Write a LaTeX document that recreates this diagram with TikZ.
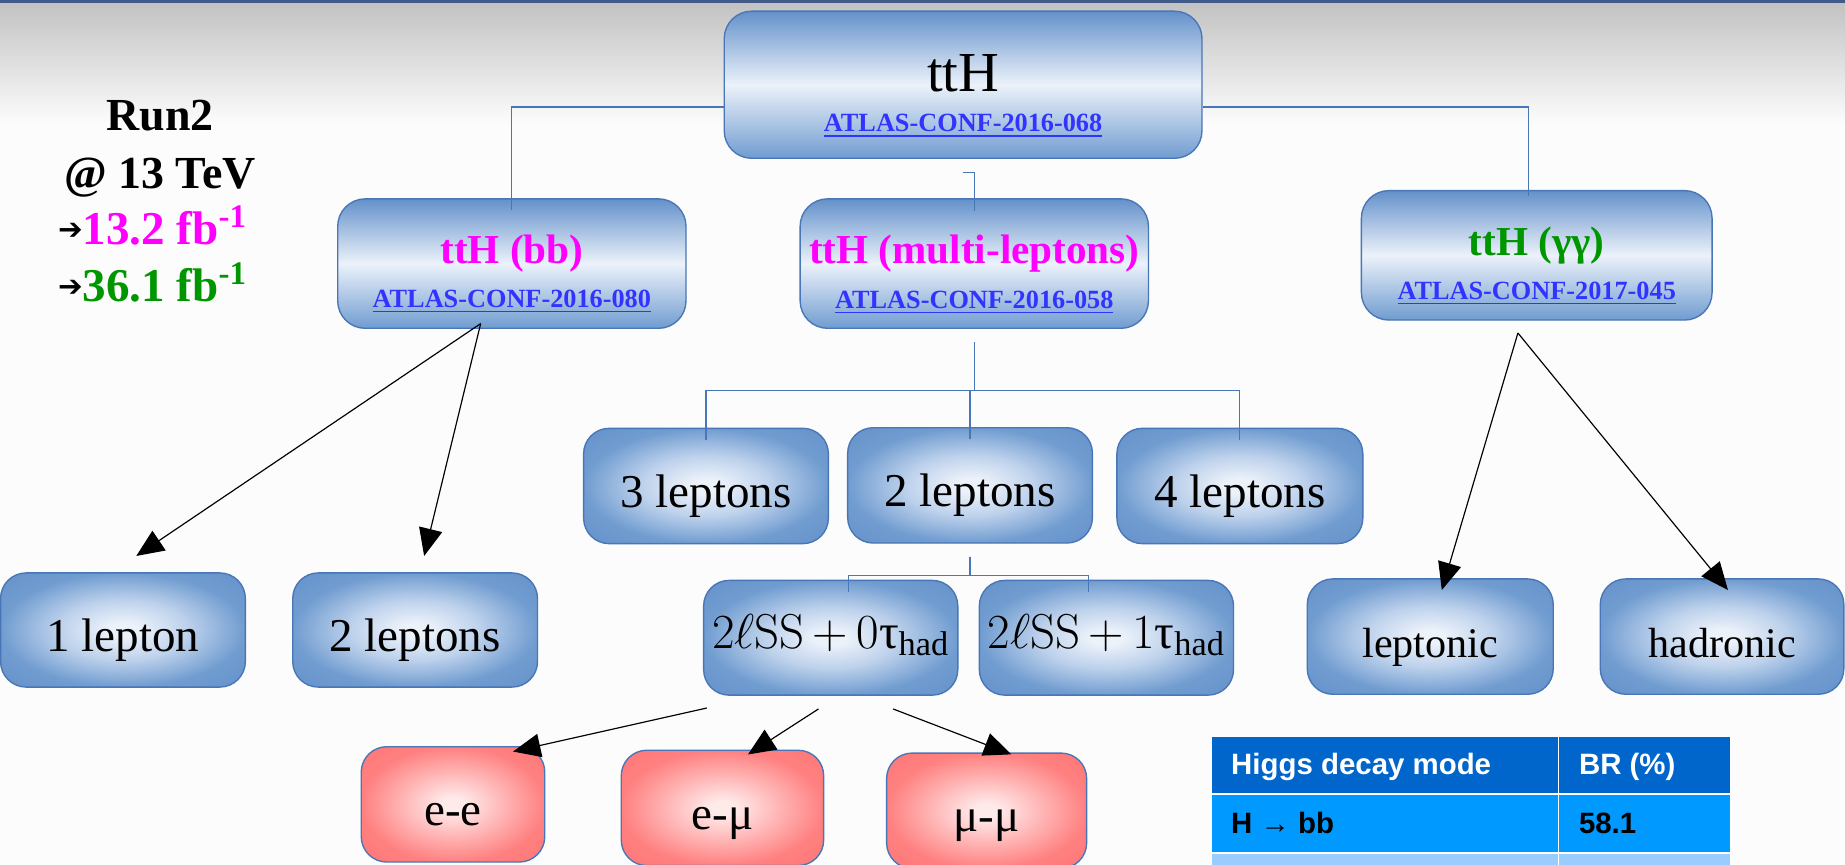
\RequirePackage{fix-cm}
\documentclass[tikz,border=0pt]{standalone}
\usepackage{amsmath}
\usepackage[no-math]{fontspec}
\setmainfont{Liberation Serif}
\newfontfamily\arialf{Liberation Sans}
\newfontfamily\dvsans{DejaVu Sans}
\usetikzlibrary{arrows.meta}

\newcommand{\fsz}[1]{\fontsize{#1}{#1}\selectfont}
\newcommand{\pointer}{\raisebox{2.5pt}{\textcolor{black}{\dvsans\fsz{15}➔}}}

\definecolor{paper}{RGB}{252,252,252}
\definecolor{topbar}{RGB}{65,90,135}
\definecolor{haze}{RGB}{194,194,194}
\definecolor{edgeblue}{RGB}{72,118,182}
\definecolor{boxblue}{RGB}{112,156,208}
\definecolor{boxdeep}{RGB}{100,145,202}
\definecolor{boxmid}{RGB}{190,210,236}
\definecolor{boxlight}{RGB}{236,242,250}
\definecolor{boxred}{RGB}{255,128,128}
\definecolor{redmidc}{RGB}{255,185,185}
\definecolor{reddeep}{RGB}{255,118,118}
\definecolor{redlight}{RGB}{255,234,234}
\definecolor{linkblue}{RGB}{51,51,255}
\definecolor{tagpink}{RGB}{255,0,255}
\definecolor{taggreen}{RGB}{0,150,0}
\definecolor{headblue}{RGB}{0,102,204}
\definecolor{rowblue}{RGB}{0,153,255}
\definecolor{rowpale}{RGB}{153,204,255}

\pgfdeclareradialshading{bluemid}{\pgfpoint{0bp}{0bp}}{color(0bp)=(boxlight); color(3bp)=(boxlight); color(13bp)=(boxmid); color(25bp)=(boxblue); color(36bp)=(boxdeep); color(50bp)=(boxdeep)}
\pgfdeclareradialshading{redmid}{\pgfpoint{0bp}{0bp}}{color(0bp)=(redlight); color(3bp)=(redlight); color(13bp)=(redmidc); color(25bp)=(boxred); color(36bp)=(reddeep); color(50bp)=(reddeep)}

\begin{document}
\begin{tikzpicture}[x=0.6pt, y=-0.6pt,
    sz/.style 2 args={minimum width=#1*0.6pt, minimum height=#2*0.6pt},
    panel/.style={draw=edgeblue, line width=0.7pt, rounded corners=14pt, inner sep=0pt,
        top color=boxdeep, bottom color=boxblue, middle color=boxlight,
        font=\fsz{21}\bfseries, text height=0pt, text depth=0pt},
    leaf/.style={draw=edgeblue, line width=0.7pt, rounded corners=13pt, inner sep=0pt,
        shading=bluemid, font=\fsz{24}, text height=21.6pt, text depth=0pt},
    redleaf/.style={leaf, shading=redmid},
    ref/.style={anchor=base, inner sep=0pt, text=linkblue, font=\fsz{13.4}\bfseries},
    cell/.style={anchor=base west, inner sep=0pt, font=\arialf\bfseries\fsz{15}},
    tree/.style={draw=edgeblue, line width=0.6pt},
    arr/.style={-{Triangle[length=14pt,width=12pt]}, line width=0.6pt}]

    \useasboundingbox (0,0) rectangle (1568,735);
    \clip (0,0) rectangle (1568,735);
    \fill[paper] (0,0) rectangle (1568,735);
    \shade[top color=haze, bottom color=paper] (0,2) rectangle (1568,105);
    \fill[topbar] (0,0) rectangle (1568,2.5);

    % run conditions
    \node[anchor=base, font=\fsz{23.4}\bfseries] (run) at (136,110.5) {Run2};
    \node[anchor=base, font=\fsz{23.4}\bfseries] (tev) at (136,160) {@ 13 TeV};
    \node[anchor=base west, inner sep=0pt, font=\fsz{24}\bfseries, text=tagpink] (lumiA) at (49,208) {\pointer13.2 fb\textsuperscript{-1}};
    \node[anchor=base west, inner sep=0pt, font=\fsz{24}\bfseries, text=taggreen] (lumiB) at (49,256.5) {\pointer36.1 fb\textsuperscript{-1}};

    % analyses
    \node[panel, sz={406}{125}, font=\fsz{28.8}, text height=7.2pt] (tth) at (818.5,72) {ttH};
    \node[ref] (tthref) at (818.5,112) {\underline{ATLAS-CONF-2016-068}};

    \node[panel, sz={296}{110}, text=tagpink] (bb) at (435,224) {ttH (bb)};
    \node[ref] (bbref) at (435,261) {\underline{ATLAS-CONF-2016-080}};
    \node[panel, sz={296}{110}, text=tagpink] (ml) at (828,224) {ttH (multi-leptons)};
    \node[ref] (mlref) at (828,262) {\underline{ATLAS-CONF-2016-058}};
    \node[panel, sz={298}{110}, text=taggreen] (gg) at (1306,217) {ttH (γγ)};
    \node[ref] (ggref) at (1306,254.5) {\underline{ATLAS-CONF-2017-045}};

    % channels
    \node[leaf, sz={208}{97}] (lp1) at (104.5,535.4) {1 lepton};
    \node[leaf, sz={208}{97}] (lp2) at (352.8,535.4) {2 leptons};
    \node[leaf, sz={208}{98}] (l3) at (600,413) {3 leptons};
    \node[leaf, sz={208}{98}] (l2) at (824.4,412.5) {2 leptons};
    \node[leaf, sz={209}{98}] (l4) at (1053.7,413) {4 leptons};
    \node[leaf, sz={216}{97.5}, font=\fsz{25}, text height=10.8pt] (ss0) at (706,542) {$2\ell\mathrm{SS}\,{+}\,0$τ$_{\text{had}}$};
    \node[leaf, sz={216}{97.5}, font=\fsz{25}, text height=10.8pt] (ss1) at (940.3,542) {$2\ell\mathrm{SS}\,{+}\,1$τ$_{\text{had}}$};
    \node[leaf, sz={209}{98}, font=\fsz{21.5}] (lep) at (1215.5,541) {leptonic};
    \node[leaf, sz={207}{98}, font=\fsz{21.5}] (had) at (1463.5,541) {hadronic};
    \node[redleaf, sz={156}{98}] (ee) at (385,683.6) {e-e};
    \node[redleaf, sz={172}{98}] (em) at (614,686.6) {e-μ};
    \node[redleaf, sz={170}{98}] (mm) at (838.5,689) {μ-μ};

    % tree connectors
    \coordinate (split) at (828,91);
    \draw[tree] (tth.west |- split) -| ([yshift=-6pt]bb.north);
    \draw[tree] (tth.east |- split) -| ([xshift=-4pt,yshift=-3pt]gg.north);
    \draw[tree] ([yshift=-7pt]tth.south) -| ([yshift=-6.6pt]ml.north);
    \coordinate (mlfork) at (828,332);
    \draw[tree] ([yshift=-6.6pt]ml.south) -- (mlfork);
    \draw[tree] ([yshift=-6.3pt]l3.north) |- (mlfork) -| ([yshift=-6.3pt]l4.north);
    \draw[tree] ([yshift=-6.3pt]l2.north) -- (l2.north |- mlfork);
    \coordinate (ssfork) at (824.4,489);
    \draw[tree] ([yshift=-6.6pt]l2.south) -- (ssfork);
    \draw[tree] ([xshift=9pt,yshift=-6.3pt]ss0.north) |- (ssfork) -| ([xshift=-9pt,yshift=-6.3pt]ss1.north);

    % arrows
    \coordinate (bbsrc) at (408.5,275);
    \coordinate (ggsrc) at (1290,283);
    \coordinate (srcA) at (600.7,601.7);
    \coordinate (srcB) at (695.6,602.5);
    \coordinate (srcC) at (759,602.5);
    \draw[arr] (bbsrc) -- ([xshift=6.8pt,yshift=8.3pt]lp1.north);
    \draw[arr] (bbsrc) -- ([xshift=4.6pt,yshift=8.3pt]lp2.north);
    \draw[arr] (ggsrc) -- ([xshift=5.9pt,yshift=-6pt]lep.north);
    \draw[arr] (ggsrc) -- ([xshift=3pt,yshift=-6pt]had.north);
    \draw[arr] (srcA) -- ([xshift=30.6pt,yshift=-2.8pt]ee.north);
    \draw[arr] (srcB) -- ([xshift=13pt,yshift=-2.5pt]em.north);
    \draw[arr] (srcC) -- ([xshift=12.6pt,yshift=-1pt]mm.north);

    % branching ratios
    \fill[headblue] (1030,626) rectangle (1470,675);
    \fill[rowblue] (1030,675) rectangle (1470,725);
    \fill[rowpale] (1030,725) rectangle (1470,740);
    \draw[white, line width=0.8pt] (1324.6,626) -- (1324.6,740);
    \draw[white, line width=0.8pt] (1030,675) -- (1470,675);
    \draw[white, line width=0.8pt] (1030,725) -- (1470,725);
    \node[cell, text=white] (hmode) at (1046,658.6) {Higgs decay mode};
    \node[cell, text=white] (hbr) at (1341.6,658.6) {BR (\%)};
    \node[cell] (hbb) at (1046,708) {H → bb};
    \node[cell] (hval) at (1341.6,708) {58.1};
\end{tikzpicture}
\end{document}
